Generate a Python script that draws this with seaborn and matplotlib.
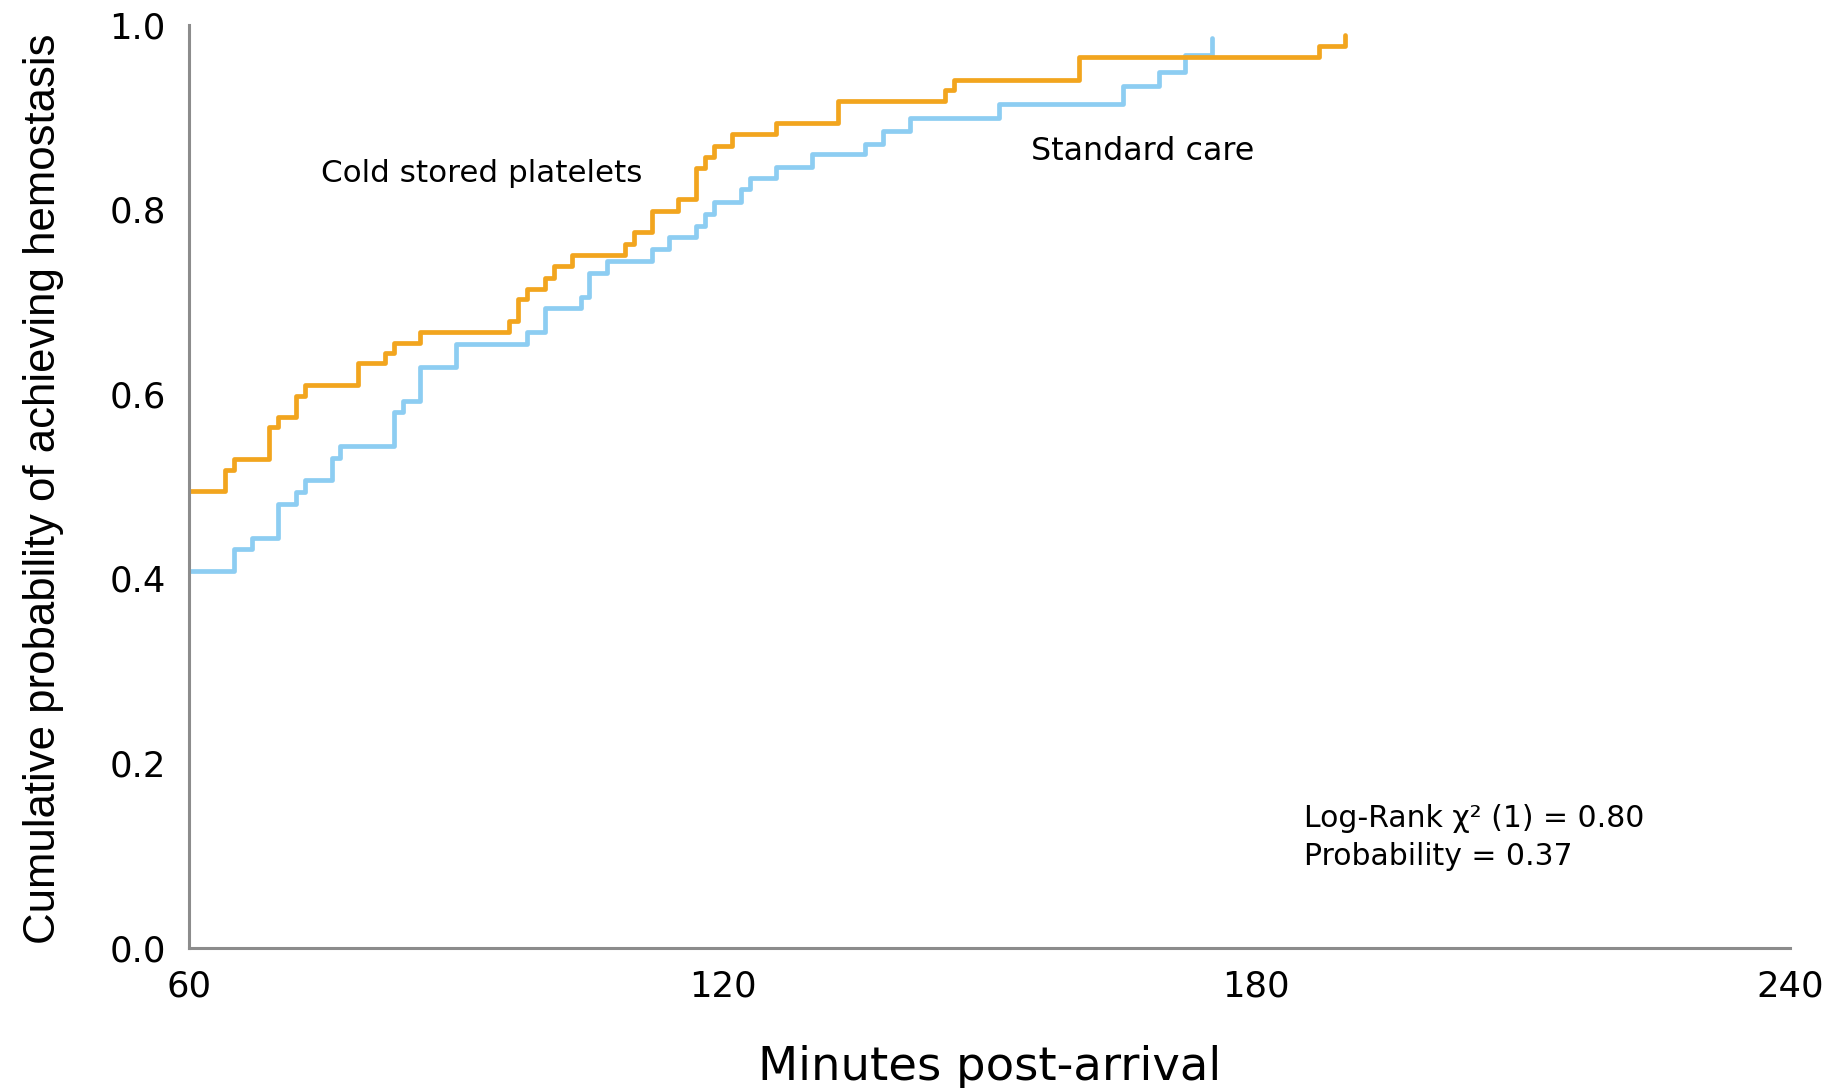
import numpy as np
import pandas as pd
import matplotlib
matplotlib.use("Agg")
import matplotlib.pyplot as plt
import seaborn as sns

# ---- data ----
csp_time = [60, 64, 65, 69, 70, 72, 73, 79, 82, 83, 86, 96, 97, 98, 100, 101, 103,
            109, 110, 112, 115, 117, 118, 119, 121, 126, 133, 145, 146, 160, 187, 190]
csp_prob = [0.495, 0.518, 0.529, 0.564, 0.575, 0.598, 0.610, 0.633, 0.644, 0.655,
            0.667, 0.679, 0.703, 0.714, 0.726, 0.739, 0.750, 0.762, 0.775, 0.798,
            0.811, 0.845, 0.857, 0.869, 0.882, 0.893, 0.917, 0.929, 0.940, 0.965,
            0.977, 0.989]

sc_time = [60, 65, 67, 70, 72, 73, 76, 77, 83, 84, 86, 90, 98, 100, 104, 105, 107,
           112, 114, 117, 118, 119, 122, 123, 126, 130, 136, 138, 141, 151, 165,
           169, 172, 175]
sc_prob = [0.408, 0.432, 0.444, 0.481, 0.494, 0.507, 0.531, 0.543, 0.580, 0.592,
           0.629, 0.654, 0.667, 0.693, 0.705, 0.731, 0.744, 0.757, 0.770, 0.782,
           0.795, 0.808, 0.822, 0.834, 0.846, 0.860, 0.871, 0.885, 0.899, 0.914,
           0.933, 0.949, 0.967, 0.985]

groups = ["Standard care", "Cold stored platelets"]
x_ticks = [60, 120, 180, 240]
y_ticks = [0.0, 0.2, 0.4, 0.6, 0.8, 1.0]

df = pd.concat([
    pd.DataFrame({"time": sc_time, "prob": sc_prob, "group": groups[0]}),
    pd.DataFrame({"time": csp_time, "prob": csp_prob, "group": groups[1]}),
], ignore_index=True)

sns.set_theme(style="white")
plt.rcParams["font.family"] = ["DejaVu Sans"]

fig = plt.figure(figsize=(18.34, 10.88), dpi=100)
ax = fig.add_axes([0.1032, 0.1289, 0.8728, 0.8485])

palette = {"Standard care": "#8DCDF2", "Cold stored platelets": "#F2A51E"}
sns.lineplot(data=df, x="time", y="prob", hue="group", hue_order=groups,
             palette=palette, estimator=None, sort=False, drawstyle="steps-post",
             linewidth=3.4, legend=False, ax=ax)

ax.set_xlim(60, 240)
ax.set_ylim(0, 1.0)
ax.set_xticks(x_ticks)
ax.set_xticklabels([str(v) for v in x_ticks])
ax.set_yticks(y_ticks)
ax.set_yticklabels([f"{v:.1f}" for v in y_ticks])
ax.tick_params(axis="both", length=0, labelsize=25.5, colors="black")
ax.tick_params(axis="x", pad=16)
ax.tick_params(axis="y", pad=17)

for s in ["top", "right"]:
    ax.spines[s].set_visible(False)
for s in ["left", "bottom"]:
    ax.spines[s].set_color("#8C8C8C")
    ax.spines[s].set_linewidth(2.2)

ax.set_xlabel("Minutes post-arrival", fontsize=33.5, color="black")
ax.xaxis.set_label_coords(0.5, -0.105)
ax.set_ylabel("Cumulative probability of achieving hemostasis", fontsize=31.5,
              family=["Liberation Sans", "DejaVu Sans"], color="black")
ax.yaxis.set_label_coords(-0.078, 0.497)

ax.text(74.8, 0.829, "Cold stored platelets", fontsize=22.3, color="black",
        ha="left", va="baseline")
ax.text(154.7, 0.853, "Standard care", fontsize=22.9, color="black",
        ha="left", va="baseline")
ax.text(185.3, 0.131, "Log-Rank χ² (1) = 0.80", fontsize=21.5, color="black",
        ha="left", va="baseline")
ax.text(185.3, 0.090, "Probability = 0.37", fontsize=21.5, color="black",
        ha="left", va="baseline")

fig.savefig("out.png", dpi=100, facecolor="white")
